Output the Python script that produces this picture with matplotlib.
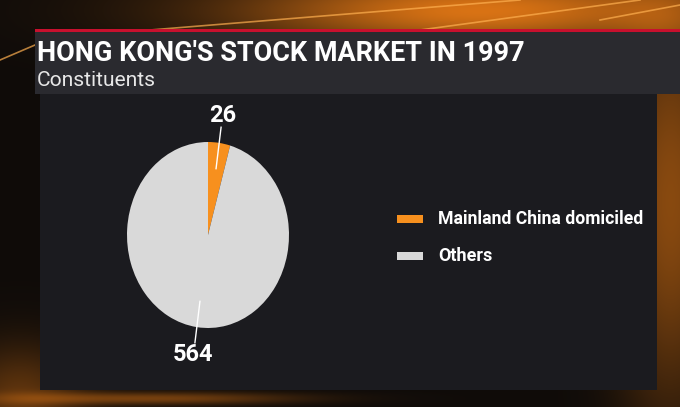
import numpy as np
import matplotlib
matplotlib.use('Agg')
import matplotlib.pyplot as plt
from matplotlib.patches import Rectangle

# data
labels = ['Mainland China domiciled', 'Others']
counts = [26, 564]
colors = ['#f7901e', '#d9d9d9']
title = "HONG KONG'S STOCK MARKET IN 1997"
subtitle = 'Constituents'

W, H = 680, 407
fig = plt.figure(figsize=(W / 100, H / 100), dpi=100)
fig.patch.set_facecolor('#120c08')
renderer = fig.canvas.get_renderer()


def fit_text(t, width_px):
    # shrink/grow the font so the text spans the width seen in the reference
    bb = t.get_window_extent(renderer)
    t.set_fontsize(t.get_fontsize() * width_px / bb.width)


# background (tv studio glow)
bg = fig.add_axes([0, 0, 1, 1])
bg.set_xlim(0, W)
bg.set_ylim(H, 0)
bg.axis('off')
yy, xx = np.mgrid[0:H, 0:W]
glow = np.exp(-((xx - 480) ** 2 / 60000 + (yy - 10) ** 2 / 1500))
glow += 0.6 * np.exp(-((xx - 670) ** 2 / 3000 + (yy - 200) ** 2 / 40000))
glow += 0.4 * np.exp(-((xx - 20) ** 2 / 4000 + (yy - 400) ** 2 / 3000))
glow += 0.5 * np.exp(-((xx - 150) ** 2 / 20000 + (yy - 398) ** 2 / 40))
base = np.array([0.06, 0.045, 0.035])
orange = np.array([0.85, 0.45, 0.08])
img = base + glow[..., None] * (orange - base)
bg.imshow(np.clip(img, 0, 1), extent=[0, W, H, 0], aspect='auto', zorder=0)
for x0, y0, x1, y1 in [(150, 30, 520, 0), (420, 30, 640, 0), (600, 20, 680, 5), (0, 60, 35, 45)]:
    bg.plot([x0, x1], [y0, y1], color='#ffb050', lw=1.2, alpha=0.7, zorder=1)

# chart panel
bg.add_patch(Rectangle((40, 93), 617, 297, facecolor='#1b1b1f', edgecolor='none', zorder=2))
# header
bg.add_patch(Rectangle((35, 31), 645, 63, facecolor='#2a2a2f', edgecolor='none', zorder=3))
bg.add_patch(Rectangle((35, 29), 645, 3, facecolor='#c8102e', edgecolor='none', zorder=4))

font = ['Roboto', 'DejaVu Sans']
t = bg.text(37, 61, title, color='white', fontsize=22, fontweight='bold', family=font,
            va='baseline', ha='left', zorder=5)
fit_text(t, 486)
t = bg.text(37, 86, subtitle, color='#e8e8e8', fontsize=14, family=font,
            va='baseline', ha='left', zorder=5)
fit_text(t, 120)

# pie
ax = fig.add_axes([127 / W, 1 - 328 / H, 162 / W, 186 / H])
wedges, _ = ax.pie(counts, colors=colors, startangle=90, counterclock=False, radius=1)
ax.set_aspect('auto')
ax.set_xlim(-1, 1)
ax.set_ylim(-1, 1)

total = sum(counts)
start = 90
for c in counts:
    sweep = c / total * 360
    mid = np.deg2rad(start - sweep / 2)
    start -= sweep
    cx, cy = np.cos(mid), np.sin(mid)
    ax.plot([0.72 * cx, 1.17 * cx], [0.72 * cy, 1.17 * cy], color='white', lw=1, clip_on=False)
    ax.text(1.3 * cx, 1.3 * cy, str(c), color='white', fontsize=17, fontweight='bold',
            family=font, ha='center', va='center', clip_on=False)

# legend
for i, (lab, col) in enumerate(zip(labels, colors)):
    y = 219 + i * 37
    bg.add_patch(Rectangle((397, y - 4), 26, 8, facecolor=col, edgecolor='none', zorder=5))
    t = bg.text(438, y, lab, color='white', fontsize=13, fontweight='bold', family=font,
                va='center', ha='left', zorder=5)
    if i == 0:
        fit_text(t, 205)

fig.savefig('out.png', dpi=100, facecolor=fig.get_facecolor())
